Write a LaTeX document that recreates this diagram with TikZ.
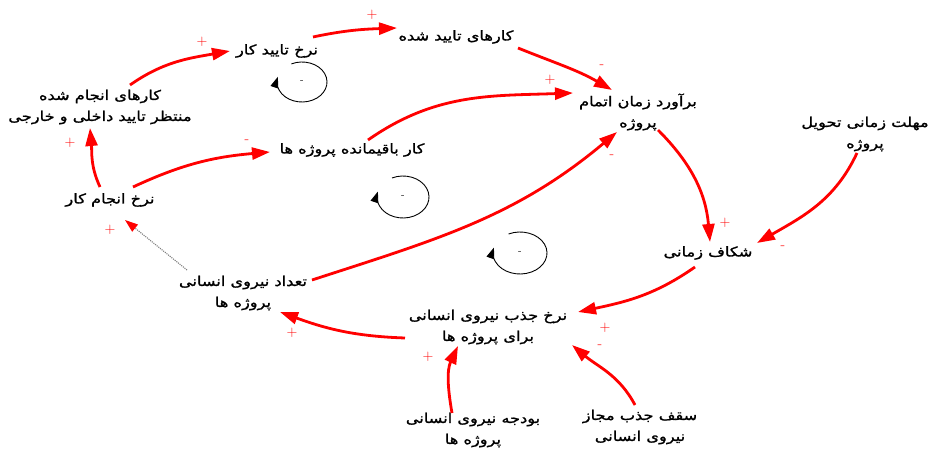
\documentclass[tikz,border=0pt]{standalone}
\usepackage{fontspec}
\newfontfamily\fa[Script=Arabic, FakeStretch=1.2, FakeBold=1.2]{DejaVu Sans}
\TeXXeTstate=1
\newcommand{\rl}[1]{\beginR#1\endR}
\usetikzlibrary{arrows.meta}

\tikzset{
    var/.style={font=\fa\fontsize{13.5}{21}\selectfont, align=center, inner sep=1pt},
    link/.style={draw=red, line width=2.8pt, -{Triangle[length=18pt,width=12pt]}},
    weak/.style={draw=gray, densely dotted, line width=1.1pt, -{Triangle[length=13pt,width=9pt,color=red]}},
    polarity/.style={text=red, font=\fontsize{15}{15}\selectfont, inner sep=0pt},
    fb/.style={draw=black, line width=0.9pt, -{Triangle[length=11pt,width=8pt]}},
    fbsign/.style={font=\fontsize{11}{11}\selectfont, inner sep=0pt}
}

\begin{document}
\begin{tikzpicture}[x=1pt, y=1pt]
    \useasboundingbox (0,0) rectangle (928,450);
    % Variables
    \node[var] (tayid) at (277,399) {\rl{نرخ تایید کار}};
    \node[var] (approved) at (456,413) {\rl{کارهای تایید شده}};
    \node[var] (estimate) at (638,338) {\rl{برآورد زمان اتمام}\\\rl{پروژه}};
    \node[var] (deadline) at (865,316) {\rl{مهلت زمانی تحویل}\\\rl{پروژه}};
    \node[var] (gap) at (708,197) {\rl{شکاف زمانی}};
    \node[var] (hire) at (488,123) {\rl{نرخ جذب نیروی انسانی}\\\rl{برای پروژه ها}};
    \node[var] (budget) at (473,20) {\rl{بودجه نیروی انسانی}\\\rl{پروژه ها}};
    \node[var] (ceiling) at (640,23) {\rl{سقف جذب مجاز}\\\rl{نیروی انسانی}};
    \node[var] (staff) at (243,157) {\rl{تعداد نیروی انسانی}\\\rl{پروژه ها}};
    \node[var] (workrate) at (110,250) {\rl{نرخ انجام کار}};
    \node[var] (waiting) at (100,343) {\rl{کارهای انجام شده}\\\rl{منتظر تایید داخلی و خارجی}};
    \node[var] (remaining) at (352,300) {\rl{کار باقیمانده پروژه ها}};
    % Causal links
    \draw[link] ([shift={(30,22)}]waiting.center) to[out=35, in=190] ([shift={(-47,0)}]tayid.center);
    \draw[link] ([shift={(36,14)}]tayid.center) to[out=12, in=182] ([shift={(-59,9)}]approved.center);
    \draw[link] ([shift={(62,-11)}]approved.center) to[out=-22, in=150] ([shift={(-26,22)}]estimate.center);
    \draw[link] ([shift={(16,10)}]remaining.center) to[out=35, in=182] ([shift={(-65,19)}]estimate.center);
    \draw[link] ([shift={(69,13)}]staff.center) to[out=18, in=220] ([shift={(-21,-20)}]estimate.center);
    \draw[link] ([shift={(20,-18)}]estimate.center) to[out=-45, in=95] ([shift={(2,11)}]gap.center);
    \draw[link] ([shift={(-8,-19)}]deadline.center) to[out=-115, in=30] ([shift={(49,10)}]gap.center);
    \draw[link] ([shift={(-13,-14)}]gap.center) to[out=-145, in=12] ([shift={(90,15)}]hire.center);
    \draw[link] ([shift={(-5,22)}]ceiling.center) to[out=118, in=-40] ([shift={(84,-18)}]hire.center);
    \draw[link] ([shift={(-21,17)}]budget.center) to[out=100, in=-115] ([shift={(-30,-19)}]hire.center);
    \draw[link] ([shift={(-83,-11)}]hire.center) to[out=178, in=-20] ([shift={(37,-19)}]staff.center);
    \draw[weak] ([shift={(-56,23)}]staff.center) -- ([shift={(15,-20)}]workrate.center);
    \draw[link] ([shift={(-10,13)}]workrate.center) to[out=115, in=-85] ([shift={(-10,-21)}]waiting.center);
    \draw[link] ([shift={(23,13)}]workrate.center) to[out=25, in=185] ([shift={(-82,-2)}]remaining.center);
    % Link polarities
    \node[polarity] (p1) at (202,408) {+};
    \node[polarity] (p2) at (372,435) {+};
    \node[polarity] (p3) at (602,383) {-};
    \node[polarity] (p4) at (550,370) {+};
    \node[polarity] (p5) at (612,293) {-};
    \node[polarity] (p6) at (725,227) {+};
    \node[polarity] (p7) at (783,202) {-};
    \node[polarity] (p8) at (605,122) {+};
    \node[polarity] (p9) at (600,103) {-};
    \node[polarity] (p10) at (428,93) {+};
    \node[polarity] (p11) at (292,117) {+};
    \node[polarity] (p12) at (110,220) {+};
    \node[polarity] (p13) at (70,307) {+};
    \node[polarity] (p14) at (247,308) {-};
    % Balancing loops
    \coordinate (la) at (302,368);
    \coordinate (lb) at (403,253);
    \coordinate (lc) at (520,197);
    \draw[fb] (la) ++(115:25 and 20) arc[start angle=115, end angle=-195, x radius=25, y radius=20];
    \draw[fb] (lb) ++(115:26 and 21) arc[start angle=115, end angle=-195, x radius=26, y radius=21];
    \draw[fb] (lc) ++(115:27 and 21) arc[start angle=115, end angle=-195, x radius=27, y radius=21];
    \node[fbsign] (la-sign) at (la) {-};
    \node[fbsign] (lb-sign) at (lb) {-};
    \node[fbsign] (lc-sign) at (lc) {-};
\end{tikzpicture}
\end{document}
